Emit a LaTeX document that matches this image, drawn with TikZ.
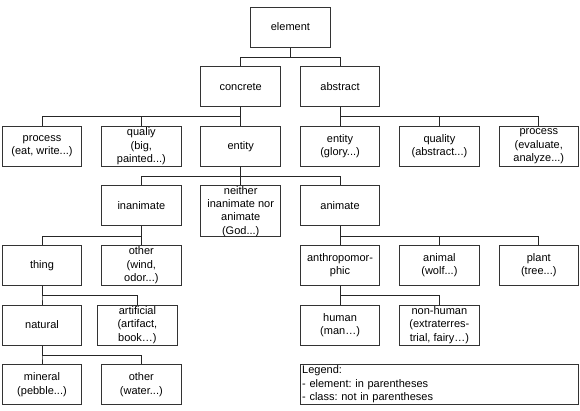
\documentclass[tikz,border=0pt]{standalone}
\usepackage{fontspec}
\setmainfont{Liberation Sans}
\frenchspacing
\begin{document}
\begin{tikzpicture}[x=1pt,y=-1pt,
  box/.style={draw=black!80, line width=1pt, minimum width=79.5pt, minimum height=40pt,
    inner sep=0pt, align=center, font=\fontsize{11}{13.3}\selectfont},
  conn/.style={draw=black!85, line width=1pt}]
\useasboundingbox (0,0) rectangle (580,410);
% columns: 42, 141.35, 240.7, 340.05, 439.4, 538.75
% rows: 27, 86.6, 146.2, 205.8, 265.4, 325, 384.6
\node[box] (element)  at (290.4,27)   {element};
\node[box] (concrete) at (240.7,86.6) {concrete};
\node[box] (abstract) at (340.05,86.6) {abstract};

\node[box] (procA) at (42,146.2)     {process\\(eat, write...)};
\node[box] (qualA) at (141.35,146.2) {qualiy\\(big,\\painted...)};
\node[box] (entA)  at (240.7,146.2)  {entity};
\node[box] (entB)  at (340.05,146.2) {entity\\(glory...)};
\node[box] (qualB) at (439.4,146.2)  {quality\\(abstract...)};
\node[box] (procB) at (538.75,146.2) {process\\(evaluate,\\analyze...)};

\node[box] (inanimate) at (141.35,205.8) {inanimate};
\node[box, minimum height=50.7pt] (neither) at (240.7,211.2) {neither\\inanimate nor\\animate\\(God...)};
\node[box] (animate) at (340.05,205.8) {animate};

\node[box] (thing)  at (42,265.4)     {thing};
\node[box] (otherA) at (141.35,265.4) {other\\(wind,\\odor...)};
\node[box] (anthro) at (340.05,265.4) {anthropomor-\\phic};
\node[box] (animal) at (439.4,265.4)  {animal\\(wolf...)};
\node[box] (plant)  at (538.75,265.4) {plant\\(tree...)};

\node[box] (natural)    at (42,325)     {natural};
\node[box] (artificial) at (137.4,325)  {artificial\\(artifact,\\book…)};
\node[box] (human)      at (340.05,325) {human\\(man…)};
\node[box] (nonhuman)   at (439.4,325)  {non-human\\(extraterres-\\trial, fairy…)};

\node[box] (mineral) at (42,384.6)     {mineral\\(pebble...)};
\node[box] (otherB)  at (141.35,384.6) {other\\(water...)};

\node[box, minimum width=278pt, text width=274pt, align=left] (legend) at (439.2,384.4)
  {Legend:\\- element: in parentheses\\- class: not in parentheses};

% connectors
\foreach \c in {concrete,abstract}
  \draw[conn] (element.south) -- ++(0,9.8) -| (\c.north);
\foreach \c in {procA,qualA,entA}
  \draw[conn] (concrete.south) -- ++(0,9.8) -| (\c.north);
\foreach \c in {entB,qualB,procB}
  \draw[conn] (abstract.south) -- ++(0,9.8) -| (\c.north);
\foreach \c in {inanimate,neither,animate}
  \draw[conn] (entA.south) -- ++(0,9.8) -| (\c.north);
\foreach \c in {thing,otherA}
  \draw[conn] (inanimate.south) -- ++(0,9.8) -| (\c.north);
\foreach \c in {natural,artificial}
  \draw[conn] (thing.south) -- ++(0,9.8) -| (\c.north);
\foreach \c in {mineral,otherB}
  \draw[conn] (natural.south) -- ++(0,9.8) -| (\c.north);
\foreach \c in {anthro,animal,plant}
  \draw[conn] (animate.south) -- ++(0,9.8) -| (\c.north);
\foreach \c in {human,nonhuman}
  \draw[conn] (anthro.south) -- ++(0,9.8) -| (\c.north);
\end{tikzpicture}
\end{document}
